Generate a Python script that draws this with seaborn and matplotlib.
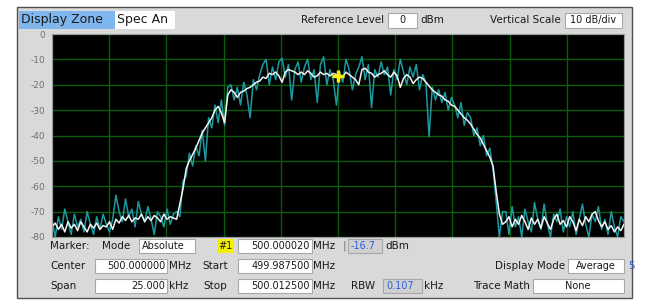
import numpy as np
import pandas as pd
import matplotlib as mpl
mpl.use("Agg")
import matplotlib.pyplot as plt
from matplotlib.patches import Rectangle
import seaborn as sns

# sweep settings
start_mhz = 499.9875
stop_mhz = 500.0125
ref_level = 0
db_per_div = 10
n_div_y = 8
n_div_x = 10

# averaged trace (white), 180 sweep points, dBm
avg_left = [-76, -74.5, -77, -75, -78, -74, -76.5, -75, -77.5, -74,
            -76, -78, -75, -76.5, -74.5, -77, -75.5, -76, -74, -77,
            -73, -74.5, -72, -73.5, -71.5, -74, -72.5, -73, -71, -74,
            -72, -73.5, -71.5, -72.5, -74, -71, -73, -72, -72.5]
avg_rise = [-73, -67, -61, -53, -50, -47.5, -45, -42, -39, -37, -35, -33,
            -30, -28.5, -31, -35, -24]
avg_top = [-22, -23, -25, -23, -22.5, -21.5, -21, -20, -19, -18.5,
           -17, -17.5, -15.5, -16, -15, -16.5, -19, -15, -14, -14.5,
           -15, -16, -15, -16, -14.5, -15.5, -17, -16.5, -15, -16,
           -15.5, -16.5, -15.5, -16, -16.7, -17, -15, -16, -17, -18,
           -20, -14, -13.5, -15, -15.5, -17, -16, -15.5, -14.5, -16,
           -17, -15, -16.5, -21, -17.5, -16, -17, -19.5, -18, -17,
           -17.5, -19, -20.5, -22, -23]
avg_fall = [-24, -24.5, -26, -26.5, -28, -28.5, -30, -31.5, -33, -34,
            -35.5, -37.5, -39.5, -41, -43.5, -46, -48.5, -52, -62, -71, -75]
avg_right = [-74, -72, -76, -73, -75, -71.5, -74, -77, -72.5, -75,
             -73, -76.5, -72, -74.5, -77, -73, -71, -75, -73.5, -76,
             -72, -74, -77.5, -73, -75.5, -72, -74, -71, -70, -73.5,
             -76, -74, -77, -75.5, -78, -76, -77.5, -75]

# live trace (teal)
live_left = [-73, -80, -72, -77, -69, -74, -79, -71, -76, -73,
             -78, -70, -75, -79, -72, -77, -71, -75, -78, -73,
             -63.5, -70, -74, -65, -72, -69, -76, -66, -71, -74,
             -68, -73, -79, -70, -72, -76, -69, -75, -71]
live_rise = [-70, -72, -58, -56, -47, -52, -44, -48, -38, -50, -33, -37,
             -28, -35, -26, -36, -21]
live_top = [-20, -26, -21, -28, -19, -24, -33, -18, -22, -16,
            -12, -10, -20, -13, -18, -11, -9.5, -17, -12, -26,
            -14, -11, -19, -13, -10, -18, -14, -27, -12, -9,
            -20, -14, -18, -28, -15, -19, -10, -14, -22, -16,
            -13, -9, -18, -12, -29, -14, -17, -11, -16, -13,
            -24, -14, -18, -10, -15, -20, -13, -17, -12, -22,
            -16, -19, -40.5, -21, -26]
live_fall = [-22, -27, -23, -30, -25, -28, -33, -27, -36, -31, -33, -40,
             -37, -44, -40, -48, -45, -53, -66, -80, -70]
live_right = [-70, -79, -68, -76, -72, -80, -69, -74, -78, -66.5,
              -73, -77, -67, -75, -80, -71, -74, -69, -78, -72,
              -76, -70, -79, -73, -67, -75, -80, -71, -74, -68,
              -77, -73, -79, -70, -76, -80, -72, -74]

marker_mhz = 500.000020
marker_dbm = -16.7

avg = avg_left + avg_rise + avg_top + avg_fall + avg_right
live = live_left + live_rise + live_top + live_fall + live_right
freq = np.linspace(start_mhz, stop_mhz, len(avg))

df = pd.DataFrame({"freq": np.concatenate([freq, freq]),
                   "dbm": live + avg,
                   "trace": ["live"] * len(live) + ["avg"] * len(avg)})

W, H = 646, 300
fig = plt.figure(figsize=(W / 100, H / 100), dpi=100)
fig.patch.set_facecolor("white")


def fx(x):
    return x / W


def fy(y):
    return 1 - y / H


def box(x0, y0, x1, y1, fc, ec="#a8a8a8", lw=0.8, z=1):
    fig.patches.append(Rectangle((fx(x0), fy(y1)), fx(x1) - fx(x0), fy(y0) - fy(y1),
                                 transform=fig.transFigure, facecolor=fc,
                                 edgecolor=ec, lw=lw, zorder=z))


def txt(x, y, s, ha="left", color="#1a1a1a", size=7.5, **kw):
    fig.text(fx(x), fy(y), s, ha=ha, va="center", color=color, fontsize=size,
             family="DejaVu Sans", zorder=5, **kw)


# panel
box(17, 7, 632, 298, "#d9d9d9", ec="#505050", lw=1.0, z=-5)

ax = fig.add_axes([fx(52), fy(237), fx(624) - fx(52), fy(34) - fy(237)])
ax.set_zorder(3)
ax.set_facecolor("black")
sns.lineplot(data=df, x="freq", y="dbm", hue="trace",
             palette={"live": "#1c9aa0", "avg": "#f2f2f2"},
             hue_order=["live", "avg"], lw=1.1, legend=False, ax=ax)
ax.plot([marker_mhz], [marker_dbm], marker="+", color="#ffee00", ms=9, mew=2.5)

ax.set_xlim(start_mhz, stop_mhz)
ax.set_ylim(ref_level - n_div_y * db_per_div, ref_level)
ax.set_xticks(np.linspace(start_mhz, stop_mhz, n_div_x + 1))
yt = np.arange(ref_level - n_div_y * db_per_div, ref_level + 1, db_per_div)
ax.set_yticks(yt)
ax.set_yticklabels([str(v) for v in yt], color="#707070", fontsize=6.5)
ax.set_xticklabels([])
ax.tick_params(length=0, pad=5)
ax.grid(True, color="#0d5c0d", lw=1.0)
ax.set_axisbelow(True)
ax.set_xlabel("")
ax.set_ylabel("")
for s in ax.spines.values():
    s.set_color("#9a9a9a")
    s.set_linewidth(0.8)

# header row
box(19, 11, 115, 29, "#7fb6ee", ec="none")
txt(21, 20, "Display Zone", size=9)
box(115, 11, 175, 29, "white", ec="none")
txt(117, 20, "Spec An", size=9)
txt(384, 20, "Reference Level", ha="right", size=7.5)
box(388, 13, 417, 28, "white")
txt(402, 20, "0", ha="center", size=7)
txt(420, 20, "dBm", size=7.5)
txt(561, 20, "Vertical Scale", ha="right", size=7.5)
box(565, 13, 622, 28, "white")
txt(593, 20, "10 dB/div", ha="center", size=7)

# marker row
r1, r2, r3 = 246, 266, 286
txt(50, r1, "Marker:")
txt(102, r1, "Mode")
box(139, r1 - 7, 195, r1 + 7, "white")
txt(142, r1, "Absolute", size=7)
box(217, r1 - 7, 234, r1 + 7, "#f4f000", ec="none")
txt(225.5, r1, "#1", ha="center", size=7)
box(238, r1 - 7, 312, r1 + 7, "white")
txt(310, r1, "500.000020", ha="right", size=7)
txt(313, r1, "MHz")
txt(343, r1, "|", color="#707070")
box(348, r1 - 7, 382, r1 + 7, "#d0d0d0")
txt(351, r1, "-16.7", color="#2a5fe0", size=7)
txt(385, r1, "dBm")

# center / start row
txt(50, r2, "Center")
box(95, r2 - 7, 167, r2 + 7, "white")
txt(165, r2, "500.000000", ha="right", size=7)
txt(169, r2, "MHz")
txt(202, r2, "Start")
box(238, r2 - 7, 312, r2 + 7, "white")
txt(310, r2, "499.987500", ha="right", size=7)
txt(313, r2, "MHz")
txt(565, r2, "Display Mode", ha="right")
box(568, r2 - 7, 624, r2 + 7, "white")
txt(596, r2, "Average", ha="center", size=7)
txt(628, r2, "5", color="#2a5fe0")

# span / stop row
txt(50, r3, "Span")
box(95, r3 - 7, 167, r3 + 7, "white")
txt(165, r3, "25.000", ha="right", size=7)
txt(169, r3, "kHz")
txt(203, r3, "Stop")
box(238, r3 - 7, 312, r3 + 7, "white")
txt(310, r3, "500.012500", ha="right", size=7)
txt(313, r3, "MHz")
txt(351, r3, "RBW")
box(383, r3 - 7, 422, r3 + 7, "#d0d0d0")
txt(386, r3, "0.107", color="#2a5fe0", size=7)
txt(424, r3, "kHz")
txt(530, r3, "Trace Math", ha="right")
box(533, r3 - 7, 624, r3 + 7, "white")
txt(578, r3, "None", ha="center", size=7)

fig.savefig("out.png", dpi=100)
